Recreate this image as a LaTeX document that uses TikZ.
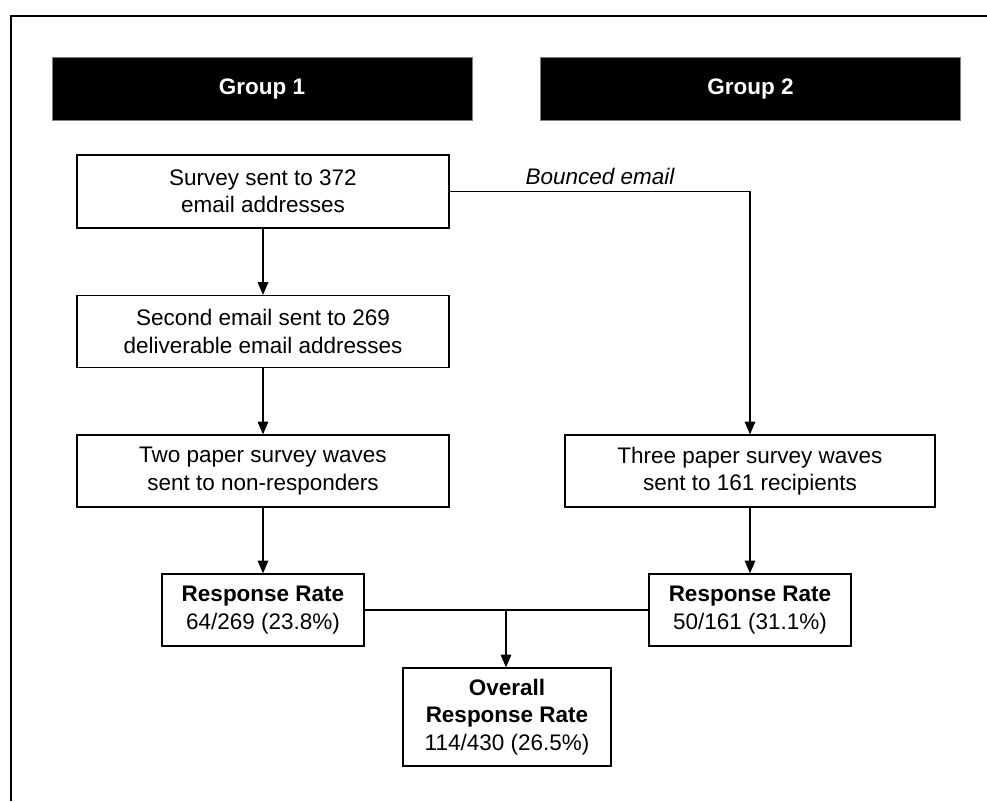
\documentclass[tikz,border=0pt]{standalone}
\usepackage{fontspec}
\setmainfont{Liberation Sans}
\usetikzlibrary{arrows.meta}

\begin{document}
\begin{tikzpicture}[
  stepbox/.style={draw, line width=0.9pt, align=center, inner sep=0pt,
    minimum width=9.3cm, minimum height=1.8cm, font=\fontsize{16}{19.5}\selectfont},
  ratebox/.style={stepbox, minimum width=5.05cm},
  groupbar/.style={fill=black, draw=gray, text=white, inner sep=0pt,
    minimum width=10.5cm, minimum height=1.575cm, font=\fontsize{16}{19.5}\selectfont\bfseries},
  flow/.style={line width=0.9pt, -{Triangle[length=9pt, width=7.5pt]}},
  link/.style={line width=0.9pt}
]
\useasboundingbox (0,0) rectangle (24.675,20.025);
% frame
\draw[line width=1pt] (0.275,0) -- (0.275,19.625) -- (24.675,19.625);
% group headers
\node[groupbar] (grpone) at (6.55,17.8125) {Group 1};
\node[groupbar] (grptwo) at (18.7625,17.8125) {Group 2};
% group 1 column
\node[stepbox, minimum height=1.825cm] (survey) at (6.575,15.2375) {Survey sent to 372\\email addresses};
\node[stepbox] (second) at (6.575,11.7375) {Second email sent to 269\\deliverable email addresses};
\node[stepbox] (paperone) at (6.575,8.25) {Two paper survey waves\\sent to non-responders};
\node[ratebox] (rateone) at (6.575,4.775) {\textbf{Response Rate}\\64/269 (23.8\%)};
% group 2 column
\node[stepbox, minimum width=9.25cm] (papertwo) at (18.75,8.25) {Three paper survey waves\\sent to 161 recipients};
\node[ratebox] (ratetwo) at (18.75,4.775) {\textbf{Response Rate}\\50/161 (31.1\%)};
% overall
\node[ratebox, minimum width=5.2cm, minimum height=2.45cm] (overall) at (12.675,2.1) {\textbf{Overall}\\\textbf{Response Rate}\\114/430 (26.5\%)};
\coordinate (bend) at (18.75,15.2375);
\coordinate (join) at (12.65,4.775);
\node[font=\fontsize{16}{19.5}\selectfont\itshape] (bounced) at (15.0,15.625) {Bounced email};
% connectors
\draw[flow] (survey) -- (second);
\draw[flow] (second) -- (paperone);
\draw[flow] (paperone) -- (rateone);
\draw[flow] (survey.east) -- (bend) -- (papertwo.north);
\draw[flow] (papertwo) -- (ratetwo);
\draw[link] (rateone.east) -- (ratetwo.west);
\draw[flow] (join) -- (join |- overall.north);
\end{tikzpicture}
\end{document}
